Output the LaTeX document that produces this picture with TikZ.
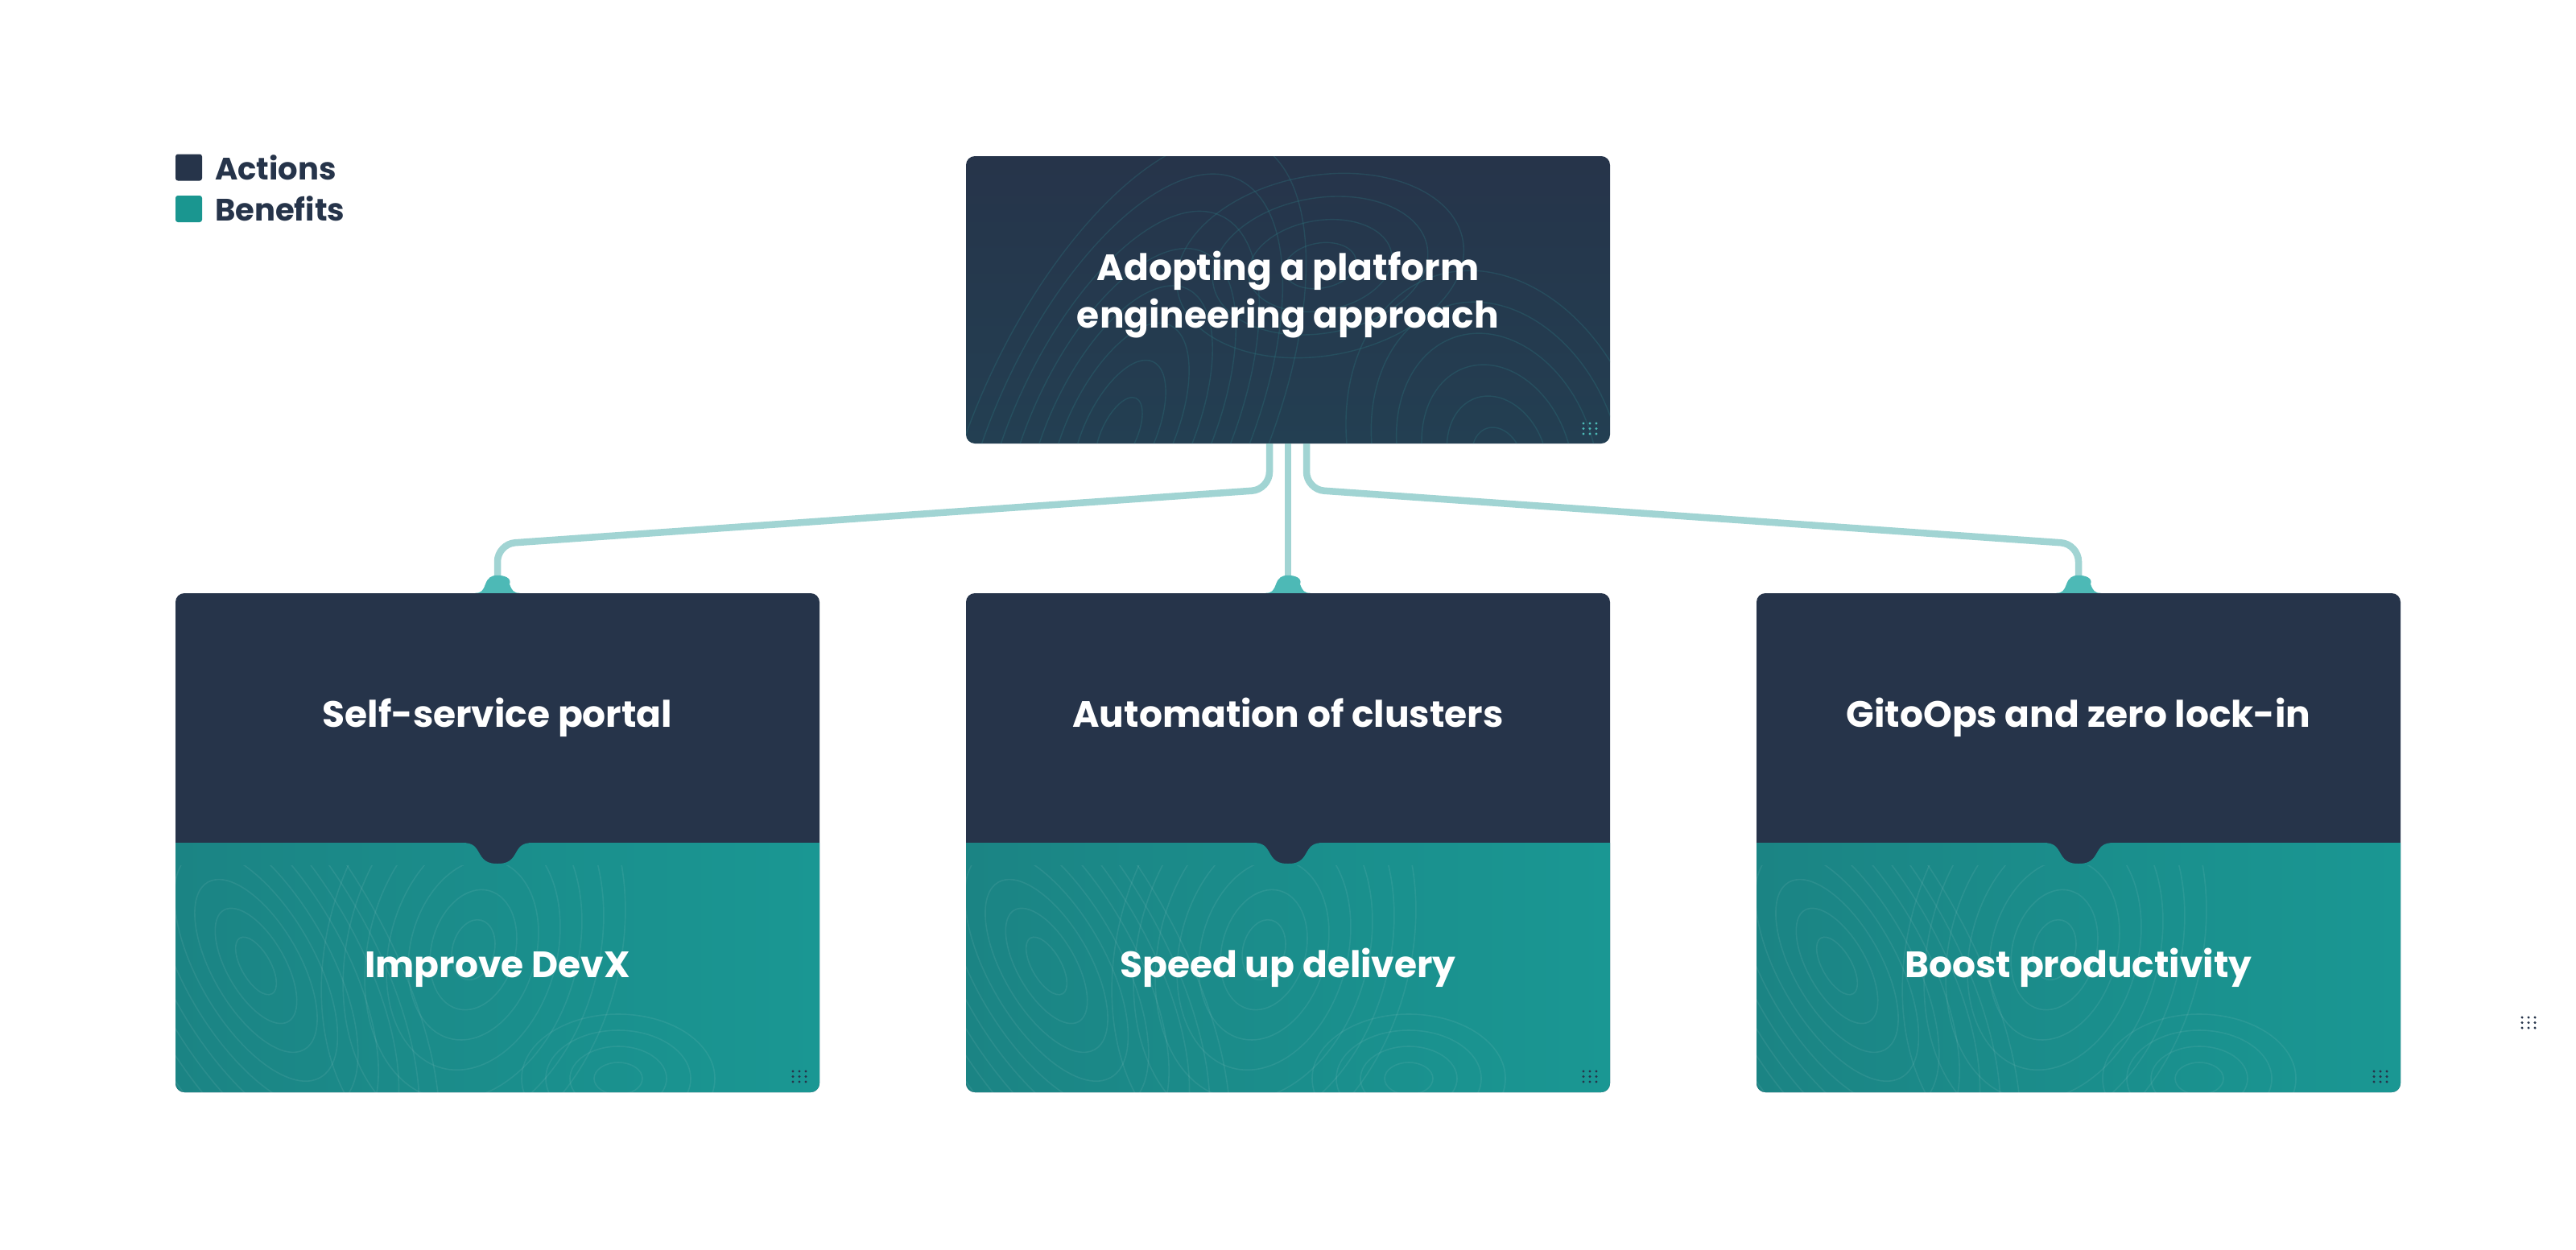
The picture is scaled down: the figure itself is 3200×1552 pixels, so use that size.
\documentclass[tikz,border=0pt]{standalone}
\usepackage{fontspec}
\setmainfont{Poppins}
\usetikzlibrary{positioning}

\definecolor{navy}{HTML}{26344A}
\definecolor{navylow}{HTML}{233F52}
\definecolor{tealbox}{HTML}{1A9793}
\definecolor{tealdeep}{HTML}{1B8484}
\definecolor{linkteal}{HTML}{A1D4D3}
\definecolor{bumpteal}{HTML}{4DB9B6}
\definecolor{legteal}{HTML}{1A9690}
\definecolor{contourline}{HTML}{2D7A82}

\tikzset{
  card/.style={minimum width=800pt, minimum height=620pt, rounded corners=11pt, fill=navy, inner sep=0pt},
  topcard/.style={minimum width=800pt, minimum height=357pt, rounded corners=11pt, inner sep=0pt, top color=navy, bottom color=navylow},
  cardtext/.style={text=white, font=\bfseries\fontsize{45.5}{59}\selectfont, align=center, inner sep=0pt},
  legsq/.style={minimum size=33pt, inner sep=0pt, rounded corners=3pt},
  legtext/.style={text=navy, font=\bfseries\fontsize{38.5}{44}\selectfont, anchor=base west, inner sep=0pt},
  link/.style={draw=linkteal, line width=8.5pt, rounded corners=22pt},
  contourdark/.style={draw=contourline, opacity=0.3, line width=1.4pt},
  contourlight/.style={draw=white, opacity=0.07, line width=1.6pt}
}

% 3x3 grip dots
\newcommand{\griddots}[3]{
  \foreach \i in {0,1,2}{
    \foreach \j in {0,1,2}{
      \fill[#3] (#1+\i*8,#2+\j*6.5) circle (1.7);
    }
  }
}

\begin{document}
\begin{tikzpicture}[x=1pt, y=-1pt]
  \useasboundingbox[fill=white] (0,0) rectangle (3200,1552);

  % legend
  \node[legsq, fill=navy] (actsq) at (234.5,208) {};
  \node[legtext] (acttxt) at (267,223) {Actions};
  \node[legsq, fill=legteal] (bensq) at (234.5,259.5) {};
  \node[legtext] (bentxt) at (267,274) {Benefits};

  % top card
  \node[topcard] (adopt) at (1600,372.5) {};
  \begin{scope}
    \clip[rounded corners=11pt] (1200,194) rectangle (2000,551);
    \foreach \r in {1,...,8}{
      \draw[contourdark] (1390,540) ellipse [x radius=\r*22, y radius=\r*50, rotate=-25];
    }
    \foreach \r in {1,...,6}{
      \draw[contourdark] (1860,570) ellipse [x radius=\r*30, y radius=\r*40, rotate=20];
    }
    \foreach \r in {1,...,4}{
      \draw[contourdark] (1640,330) ellipse [x radius=\r*45, y radius=\r*28, rotate=10];
    }
  \end{scope}
  \node[cardtext] (adopttxt) at (1600,366) {Adopting a platform\\engineering approach};
  \griddots{1967}{526}{bumpteal}

  % child cards
  \foreach \cx/\nm/\act/\ben in {618/portal/{Self-service portal}/{Improve DevX},
      1600/clusters/{Automation of clusters}/{Speed up delivery},
      2582/gitops/{GitoOps and zero lock-in}/{Boost productivity}}{
    \node[card] (\nm) at (\cx,1047) {};
    \shade[left color=tealdeep, right color=tealbox]
      (\cx-400,1047) -- (\cx-44,1047)
      .. controls (\cx-30,1047) and (\cx-27,1052) .. (\cx-22,1061)
      .. controls (\cx-16,1072) and (\cx-8,1073) .. (\cx,1073)
      .. controls (\cx+8,1073) and (\cx+16,1072) .. (\cx+22,1061)
      .. controls (\cx+27,1052) and (\cx+30,1047) .. (\cx+44,1047)
      -- (\cx+400,1047) -- (\cx+400,1346)
      arc[start angle=0, end angle=90, radius=11]
      -- (\cx-389,1357)
      arc[start angle=90, end angle=180, radius=11]
      -- cycle;
    \begin{scope}
      \clip (\cx-400,1075) rectangle (\cx+400,1357);
      \foreach \r in {1,...,9}{
        \draw[contourlight] (\cx-300,1200) ellipse [x radius=\r*18, y radius=\r*40, rotate=30];
      }
      \foreach \r in {1,...,7}{
        \draw[contourlight] (\cx-30,1180) ellipse [x radius=\r*26, y radius=\r*38, rotate=-15];
      }
      \foreach \r in {1,...,4}{
        \draw[contourlight] (\cx+150,1340) ellipse [x radius=\r*30, y radius=\r*20];
      }
    \end{scope}
    \node[cardtext, anchor=base] (\nm-a) at (\cx,903) {\act};
    \node[cardtext, anchor=base] (\nm-b) at (\cx,1214) {\ben};
    \griddots{\cx+367}{1331}{navy}
  }

  % connectors
  \draw[link] ([xshift=-23pt]adopt.south) -- ++(0,57) -- ([yshift=61pt]portal.north) -- (portal.north);
  \draw[link] (adopt.south) -- (clusters.north);
  \draw[link] ([xshift=23pt]adopt.south) -- ++(0,57) -- ([yshift=61pt]gitops.north) -- (gitops.north);

  % connector feet
  \foreach \nm in {portal, clusters, gitops}{
    \fill[bumpteal] ([xshift=-28pt]\nm.north) .. controls ++(8,0) and ++(-3,8) .. ([xshift=-15pt,yshift=11pt]\nm.north)
      .. controls ++(3,-8) and ++(-8,0) .. ([yshift=22pt]\nm.north)
      .. controls ++(8,0) and ++(3,-8) .. ([xshift=15pt,yshift=11pt]\nm.north)
      .. controls ++(3,8) and ++(-8,0) .. ([xshift=28pt]\nm.north) -- cycle;
  }

  % stray grip
  \griddots{3133}{1264}{navy}
\end{tikzpicture}
\end{document}
